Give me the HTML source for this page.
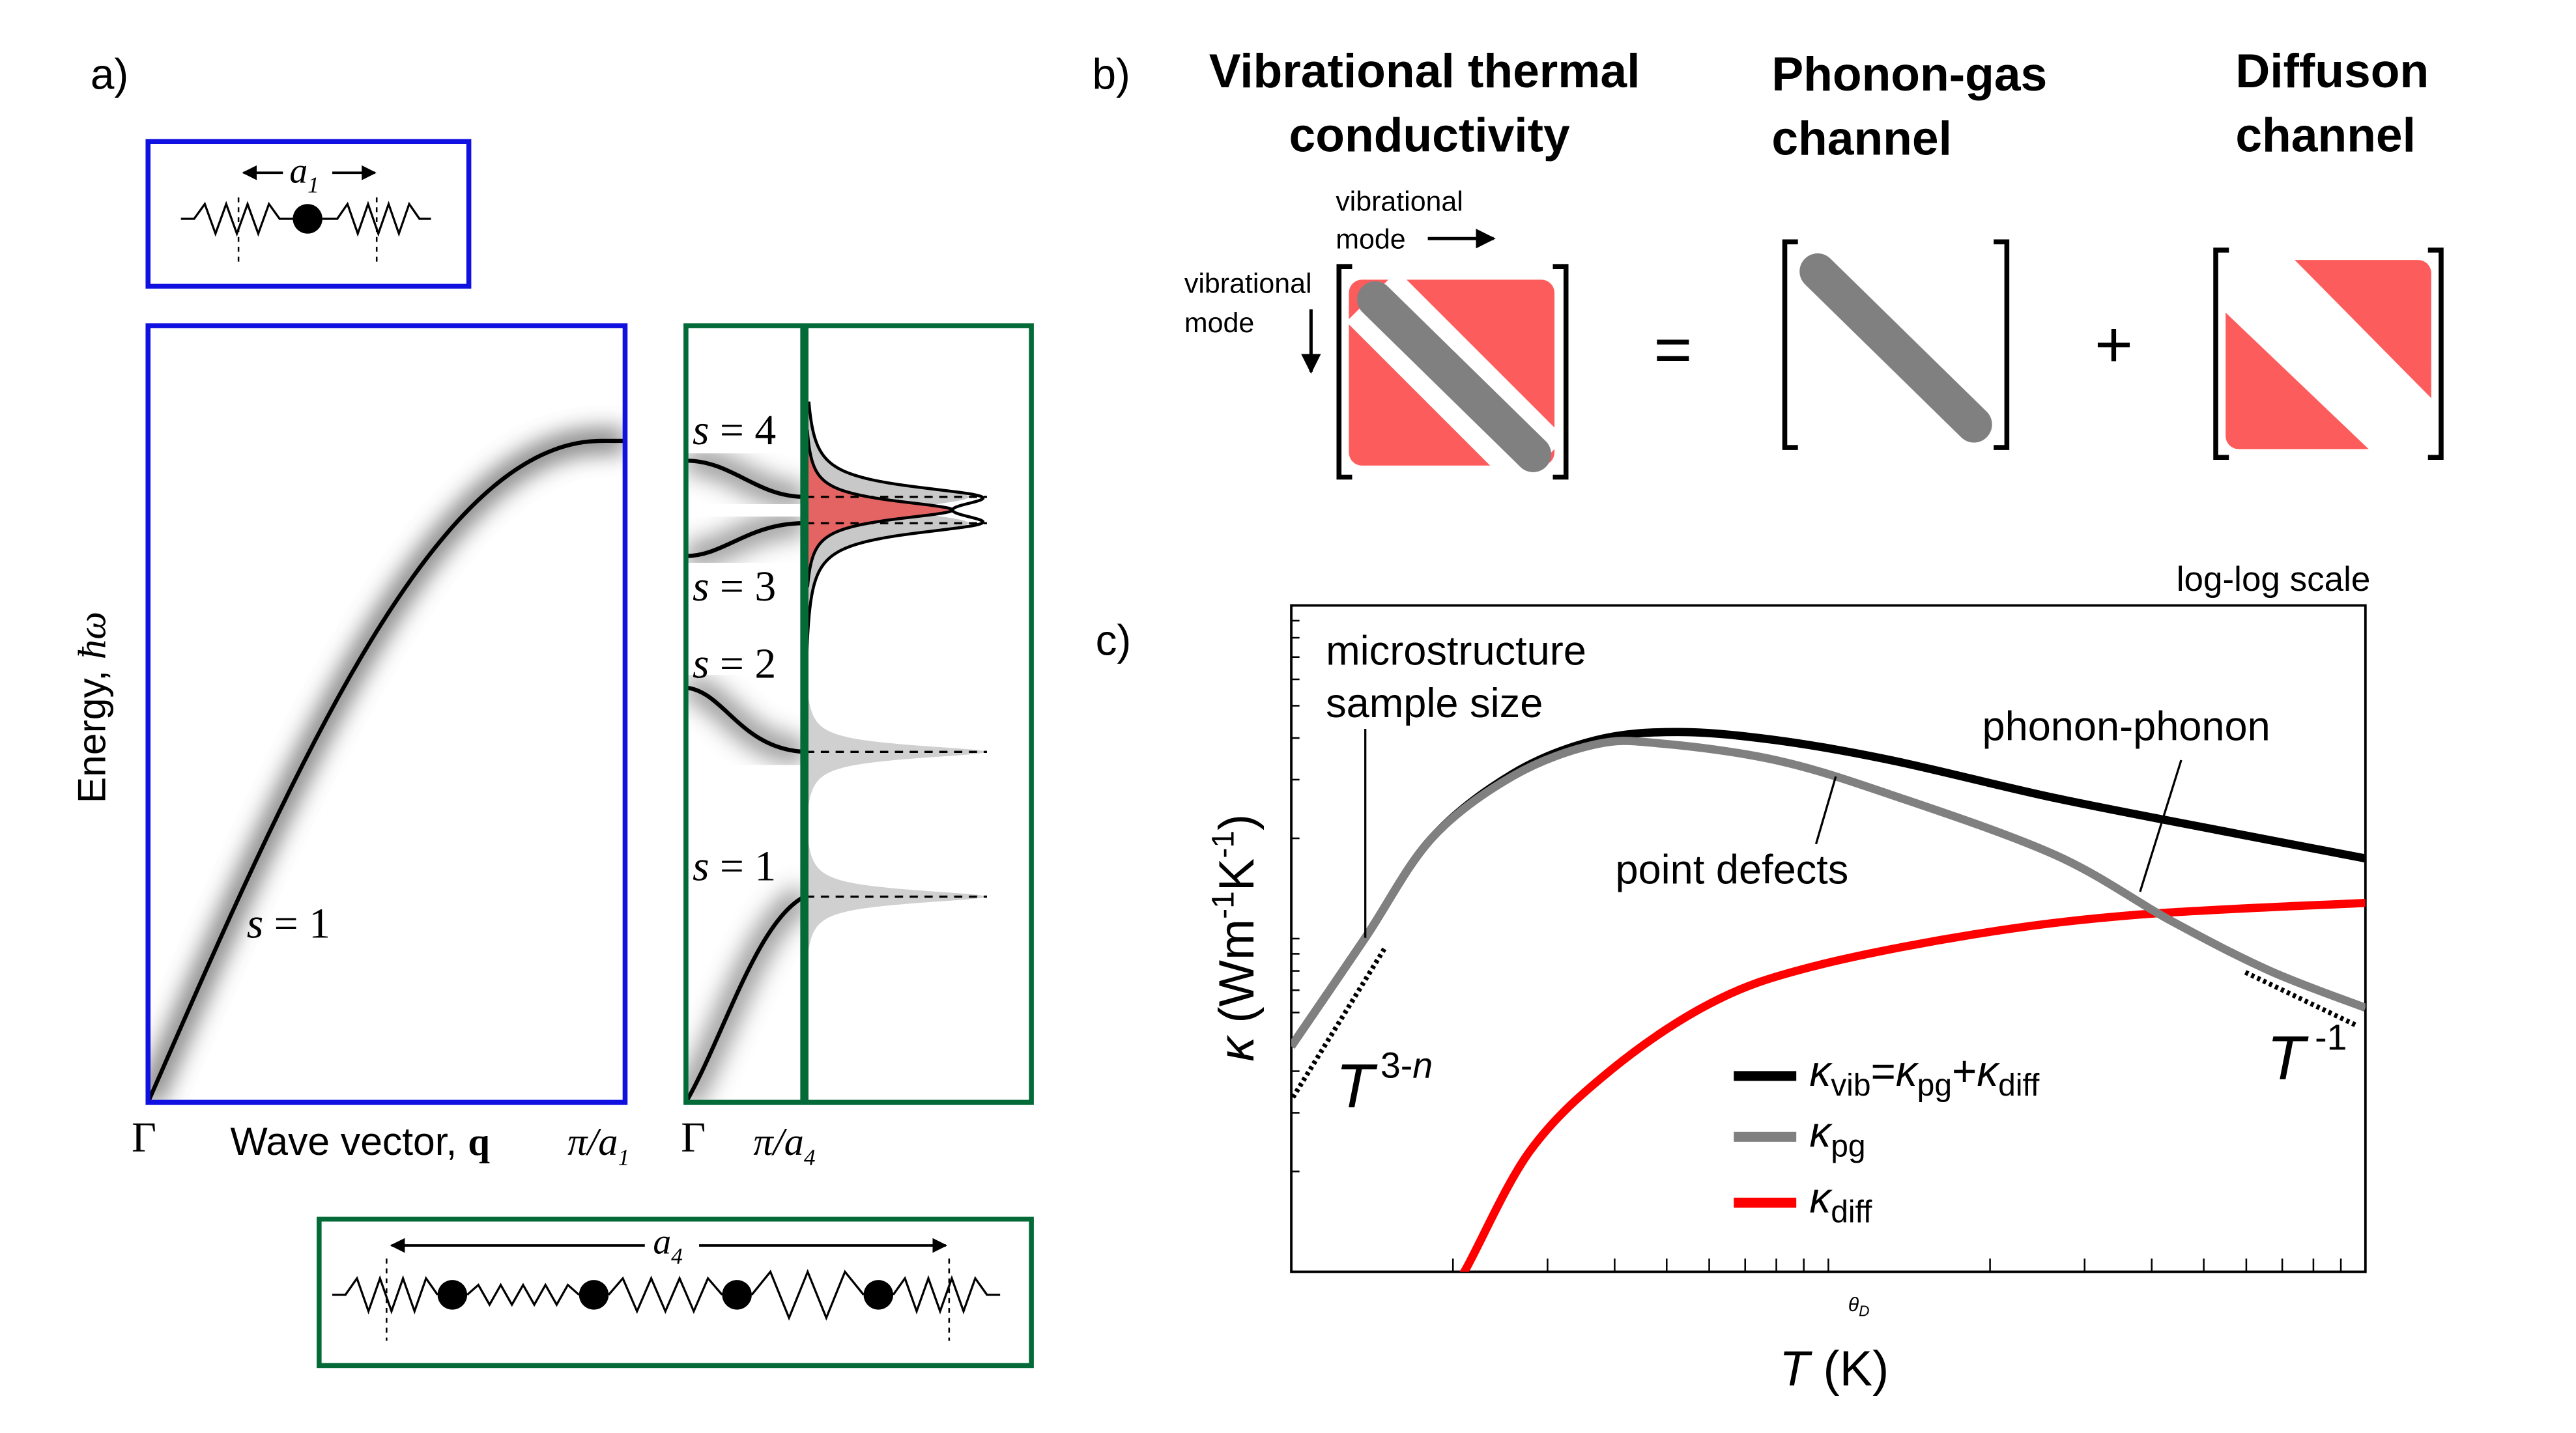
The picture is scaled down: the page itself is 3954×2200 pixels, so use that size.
<!DOCTYPE html>
<html><head><meta charset="utf-8"><style>
html,body{margin:0;padding:0;background:#fff;}
svg{display:block;}
text{font-family:"Liberation Sans",sans-serif;}
.serif{font-family:"Liberation Serif",serif;}
</style></head><body>
<svg id="fig" width="3954" height="2200" viewBox="0 0 1566 871" preserveAspectRatio="none" xmlns="http://www.w3.org/2000/svg">
<defs>
<filter id="blur" x="-20%" y="-20%" width="140%" height="140%"><feGaussianBlur stdDeviation="7"/></filter>
<marker id="arr" viewBox="0 0 10 10" refX="9" refY="5" markerWidth="6" markerHeight="6" orient="auto-start-reverse"><path d="M0,0 L10,5 L0,10 z" fill="#000"/></marker>
<clipPath id="clipA"><rect x="90" y="198" width="290" height="472"/></clipPath>
<clipPath id="clipG"><rect x="417" y="198" width="72" height="472"/></clipPath>
<clipPath id="clipC"><rect x="785" y="368" width="653" height="405"/></clipPath>
</defs>

<!-- PANEL A -->
<text x="55" y="54" font-size="26">a)</text>
<g>
<rect x="90" y="86" width="195" height="88" fill="none" stroke="#1010e0" stroke-width="3"/>
<path id="springA" fill="none" stroke="#000" stroke-width="1.3"/>
<circle cx="187" cy="133" r="9" fill="#000"/>
<line x1="145" y1="120" x2="145" y2="162" stroke="#000" stroke-dasharray="3,3"/>
<line x1="229" y1="120" x2="229" y2="162" stroke="#000" stroke-dasharray="3,3"/>
<line x1="148" y1="105" x2="172" y2="105" stroke="#000" stroke-width="1.5" marker-start="url(#arr)"/>
<line x1="202" y1="105" x2="228" y2="105" stroke="#000" stroke-width="1.5" marker-end="url(#arr)"/>
<text x="176" y="111" font-size="22" font-style="italic" class="serif">a<tspan font-size="14" dy="6">1</tspan></text>
</g>

<g>
<g clip-path="url(#clipA)">
<path id="dispBlur" fill="none" stroke="#555" stroke-width="14" filter="url(#blur)" opacity="0.8"/>
<path id="dispLine" fill="none" stroke="#000" stroke-width="2.5"/>
</g>
<rect x="90" y="198" width="290" height="472" fill="none" stroke="#1010e0" stroke-width="3"/>
<text x="150" y="570" font-size="26" class="serif" font-style="italic">s<tspan font-style="normal"> = 1</tspan></text>
<text transform="translate(64,430) rotate(-90)" text-anchor="middle" font-size="24">Energy, <tspan class="serif" font-style="italic">ħω</tspan></text>
<text x="80" y="700" font-size="26" class="serif">Γ</text>
<text x="140" y="702" font-size="24">Wave vector, <tspan class="serif" font-weight="bold">q</tspan></text>
<text x="345" y="702" font-size="24" class="serif" font-style="italic">π/a<tspan font-size="14" dy="6">1</tspan></text>
</g>

<g>
<g clip-path="url(#clipG)" id="gBranches"></g>
<g id="dos"></g>
<rect x="417" y="198" width="210" height="472" fill="none" stroke="#046a38" stroke-width="3"/>
<line x1="489" y1="198" x2="489" y2="670" stroke="#046a38" stroke-width="5"/>
<text x="421" y="270" font-size="26" class="serif" font-style="italic">s<tspan font-style="normal"> = 4</tspan></text>
<text x="421" y="365" font-size="26" class="serif" font-style="italic">s<tspan font-style="normal"> = 3</tspan></text>
<text x="421" y="412" font-size="26" class="serif" font-style="italic">s<tspan font-style="normal"> = 2</tspan></text>
<text x="421" y="535" font-size="26" class="serif" font-style="italic">s<tspan font-style="normal"> = 1</tspan></text>
<text x="414" y="700" font-size="26" class="serif">Γ</text>
<text x="458" y="702" font-size="24" class="serif" font-style="italic">π/a<tspan font-size="14" dy="6">4</tspan></text>
</g>

<g>
<rect x="194" y="741" width="433" height="89" fill="none" stroke="#046a38" stroke-width="3"/>
<path id="springB" fill="none" stroke="#000" stroke-width="1.3"/>
<circle cx="275" cy="787" r="9" fill="#000"/>
<circle cx="361" cy="787" r="9" fill="#000"/>
<circle cx="448" cy="787" r="9" fill="#000"/>
<circle cx="534" cy="787" r="9" fill="#000"/>
<line x1="235" y1="765" x2="235" y2="815" stroke="#000" stroke-dasharray="3,3"/>
<line x1="577" y1="765" x2="577" y2="815" stroke="#000" stroke-dasharray="3,3"/>
<line x1="238" y1="757" x2="392" y2="757" stroke="#000" stroke-width="1.5" marker-start="url(#arr)"/>
<line x1="425" y1="757" x2="575" y2="757" stroke="#000" stroke-width="1.5" marker-end="url(#arr)"/>
<text x="397" y="762" font-size="22" font-style="italic" class="serif">a<tspan font-size="14" dy="6">4</tspan></text>
</g>

<!-- PANEL B -->
<text x="664" y="54" font-size="26">b)</text>
<text x="866" y="53" font-size="29" font-weight="bold" text-anchor="middle">Vibrational thermal</text>
<text x="869" y="92" font-size="29" font-weight="bold" text-anchor="middle">conductivity</text>
<text x="1077" y="55" font-size="29" font-weight="bold">Phonon-gas</text>
<text x="1077" y="94" font-size="29" font-weight="bold">channel</text>
<text x="1359" y="53" font-size="29" font-weight="bold">Diffuson</text>
<text x="1359" y="92" font-size="29" font-weight="bold">channel</text>
<text x="812" y="128" font-size="17">vibrational</text>
<text x="812" y="151" font-size="17">mode</text>
<line x1="868" y1="145" x2="908" y2="145" stroke="#000" stroke-width="2" marker-end="url(#arr)"/>
<text x="720" y="178" font-size="17">vibrational</text>
<text x="720" y="202" font-size="17">mode</text>
<line x1="797" y1="188" x2="797" y2="226" stroke="#000" stroke-width="2" marker-end="url(#arr)"/>

<g>
<rect x="820" y="170" width="125" height="113" rx="8" fill="#fd5c5c"/>
<line x1="834" y1="180" x2="936" y2="282" stroke="#fff" stroke-width="44"/>
<line x1="836" y1="182" x2="932" y2="276" stroke="#808080" stroke-width="22" stroke-linecap="round"/>
<path d="M822,162 h-8 v128 h8 M944,162 h8 v128 h-8" fill="none" stroke="#000" stroke-width="3"/>
</g>
<text x="1017" y="226" font-size="40" text-anchor="middle">=</text>
<g>
<line x1="1105" y1="165" x2="1200" y2="258" stroke="#808080" stroke-width="22" stroke-linecap="round"/>
<path d="M1093,147 h-8 v125 h8 M1212,147 h8 v125 h-8" fill="none" stroke="#000" stroke-width="3"/>
</g>
<text x="1285" y="223" font-size="40" text-anchor="middle">+</text>
<g>
<path d="M1395,158 H1470 a8,8 0 0 1 8,8 V242 Z" fill="#fd5c5c"/>
<path d="M1353,190 L1440,273 H1361 a8,8 0 0 1 -8,-8 Z" fill="#fd5c5c"/>
<path d="M1355,152 h-8 v126 h8 M1476,152 h8 v126 h-8" fill="none" stroke="#000" stroke-width="3"/>
</g>

<!-- PANEL C -->
<text x="666" y="398" font-size="26">c)</text>
<text x="1441" y="359" font-size="21" text-anchor="end">log-log scale</text>
<g id="chart">
<rect x="785" y="368" width="653" height="405" fill="none" stroke="#000" stroke-width="1.5"/>
<g id="ticks"></g>
<g id="curves" clip-path="url(#clipC)"></g>
<text x="1130" y="797" font-size="12" font-style="italic" text-anchor="middle">θ<tspan font-size="9" dy="3">D</tspan></text>
<text x="1115" y="842" font-size="30" text-anchor="middle"><tspan font-style="italic">T</tspan> (K)</text>
<text transform="translate(762,570) rotate(-90)" font-size="30" text-anchor="middle"><tspan font-style="italic">κ</tspan> (Wm<tspan font-size="19" dy="-12">-1</tspan><tspan dy="12">K</tspan><tspan font-size="19" dy="-12">-1</tspan><tspan dy="12">)</tspan></text>
<text x="806" y="404" font-size="25">microstructure</text>
<text x="806" y="436" font-size="25">sample size</text>
<line x1="830" y1="443" x2="830" y2="570" stroke="#000" stroke-width="1.3"/>
<text x="982" y="537" font-size="25">point defects</text>
<line x1="1116" y1="472" x2="1104" y2="513" stroke="#000" stroke-width="1.3"/>
<text x="1205" y="450" font-size="25">phonon-phonon</text>
<line x1="1326" y1="462" x2="1301" y2="542" stroke="#000" stroke-width="1.3"/>
<line x1="786" y1="667" x2="842" y2="576" stroke="#000" stroke-width="3" stroke-dasharray="2,2"/>
<line x1="1365" y1="591" x2="1432" y2="623" stroke="#000" stroke-width="3" stroke-dasharray="2,2"/>
<text x="812" y="673" font-size="38" font-style="italic">T<tspan font-style="normal" font-size="22" dy="-18" dx="4">3-</tspan><tspan font-size="22">n</tspan></text>
<text x="1378" y="656" font-size="38" font-style="italic">T<tspan font-style="normal" font-size="22" dy="-18" dx="6">-1</tspan></text>
<g>
<line x1="1054" y1="654" x2="1092" y2="654" stroke="#000" stroke-width="6"/>
<text x="1100" y="660" font-size="26"><tspan font-style="italic">κ</tspan><tspan font-size="19" dy="6">vib</tspan><tspan dy="-6">=</tspan><tspan font-style="italic">κ</tspan><tspan font-size="19" dy="6">pg</tspan><tspan dy="-6">+</tspan><tspan font-style="italic">κ</tspan><tspan font-size="19" dy="6">diff</tspan></text>
<line x1="1054" y1="691" x2="1092" y2="691" stroke="#808080" stroke-width="6"/>
<text x="1100" y="697" font-size="26"><tspan font-style="italic">κ</tspan><tspan font-size="19" dy="6">pg</tspan></text>
<line x1="1054" y1="731" x2="1092" y2="731" stroke="#ff0000" stroke-width="6"/>
<text x="1100" y="737" font-size="26"><tspan font-style="italic">κ</tspan><tspan font-size="19" dy="6">diff</tspan></text>
</g>
</g>
</svg>
<script>
// ---- chart data (panel c) ----
const tVib = [10, 13.7, 18.2, 25.9, 36.9, 52.5, 80, 131, 265, 537, 1000];
const kVib = [4.75, 10, 19.9, 31.3, 39.4, 41.7, 39.4, 34.3, 26.4, 21.1, 17.4];
const tPg = [10, 13.7, 18.2, 25.9, 36.9, 48.9, 80, 131, 265, 435, 664, 1000];
const kPg = [4.75, 10, 19.9, 30.8, 38.3, 38.5, 34.3, 27, 17.8, 11.3, 8.0, 6.2];
const tDiff = [19, 21, 27.8, 39.5, 60.4, 92.3, 187, 378, 1000];
const kDiff = [0.8, 1, 2.3, 4.05, 6.4, 8.2, 10.3, 11.8, 12.8];
const xDomain = [1, 3];   // log10 T
const yDomain = [0, 2];   // log10 kappa
const NS = 'http://www.w3.org/2000/svg';
const X0 = 785, X1 = 1438, Y0 = 773, Y1 = 368;
function xScale(t){ return X0 + (Math.log10(t) - xDomain[0]) / (xDomain[1] - xDomain[0]) * (X1 - X0); }
function yScale(k){ return Y0 - (Math.log10(k) - yDomain[0]) / (yDomain[1] - yDomain[0]) * (Y0 - Y1); }
function smooth(pts){
  let d = 'M' + pts[0][0] + ',' + pts[0][1];
  for (let i = 0; i < pts.length - 1; i++){
    const p0 = pts[Math.max(0, i - 1)], p1 = pts[i], p2 = pts[i + 1], p3 = pts[Math.min(pts.length - 1, i + 2)];
    const c1x = p1[0] + (p2[0] - p0[0]) / 6, c1y = p1[1] + (p2[1] - p0[1]) / 6;
    const c2x = p2[0] - (p3[0] - p1[0]) / 6, c2y = p2[1] - (p3[1] - p1[1]) / 6;
    d += ' C' + c1x + ',' + c1y + ' ' + c2x + ',' + c2y + ' ' + p2[0] + ',' + p2[1];
  }
  return d;
}
function curve(ts, ks, color, name){
  const p = document.createElementNS(NS, 'path');
  p.setAttribute('d', smooth(ts.map((t, i) => [xScale(t), yScale(ks[i])])));
  p.setAttribute('fill', 'none');
  p.setAttribute('stroke', color);
  p.setAttribute('stroke-width', '5');
  
  
  document.getElementById('curves').appendChild(p);
}
curve(tDiff, kDiff, '#ff0000', 'kappa-diff-curve');
curve(tVib, kVib, '#000000', 'kappa-vib-curve');
curve(tPg, kPg, '#808080', 'kappa-pg-curve');
// ticks
const tickG = document.getElementById('ticks');
for (let dec = 10; dec <= 100; dec *= 10){
  for (let m = 1; m <= 9; m++){
    const v = dec * m;
    if (v > 10 && v < 1000){
      const x = xScale(v);
      const l = document.createElementNS(NS, 'line');
      l.setAttribute('x1', x); l.setAttribute('x2', x);
      l.setAttribute('y1', Y0); l.setAttribute('y2', Y0 - 8);
      l.setAttribute('stroke', '#000'); l.setAttribute('stroke-width', '1');
      
      
      tickG.appendChild(l);
    }
  }
}
for (let dec = 1; dec <= 10; dec *= 10){
  for (let m = 1; m <= 9; m++){
    const v = dec * m;
    if (v > 1 && v < 100){
      const y = yScale(v);
      const l = document.createElementNS(NS, 'line');
      l.setAttribute('x1', X0); l.setAttribute('x2', X0 + 5);
      l.setAttribute('y1', y); l.setAttribute('y2', y);
      l.setAttribute('stroke', '#000'); l.setAttribute('stroke-width', '1');
      
      
      tickG.appendChild(l);
    }
  }
}

// ---- panel a: dispersion ----
function dispPts(){ const pts=[]; for(let i=0;i<=40;i++){const q=i/40; pts.push([90+q*290, 670-402*Math.sin(Math.min(q/0.95,1)*Math.PI/2)]);} return pts; }
const dp = smooth(dispPts());
document.getElementById('dispLine').setAttribute('d', dp);
document.getElementById('dispBlur').setAttribute('d', dp);
function zig(x0,x1,y,n,amp){ let d=''; const w=(x1-x0)/n; for(let i=0;i<=n;i++){ d+=' L'+(x0+i*w)+','+(y+(i%2?-amp:amp)*(i===0||i===n?0:1)); } return d; }
document.getElementById('springA').setAttribute('d','M110,133 L118,133'+zig(118,170,133,8,9)+' L178,133 M196,133 L205,133'+zig(205,255,133,8,9)+' L262,133');
let sb='M202,787 L210,787'+zig(210,266,787,8,10);
sb+=' M284,787'+zig(284,352,787,10,6);
sb+=' M370,787'+zig(370,439,787,8,10);
sb+=' M457,787'+zig(457,525,787,6,14);
sb+=' M543,787'+zig(543,600,787,8,10)+' L608,787';
document.getElementById('springB').setAttribute('d',sb);

const gB = document.getElementById('gBranches');
const branchD = [
  'M417,670 C440,630 460,560 489,545',
  'M417,418 C440,420 450,455 489,457',
  'M417,338 C440,338 455,318 489,318',
  'M417,280 C445,280 460,302 489,302'
];
branchD.forEach((d,i)=>{
  const b=document.createElementNS(NS,'path'); b.setAttribute('d',d); b.setAttribute('fill','none'); b.setAttribute('stroke','#555'); b.setAttribute('stroke-width','16'); b.setAttribute('opacity','0.6'); b.setAttribute('filter','url(#blur)');
  
  
  gB.appendChild(b);
});
branchD.forEach((d,i)=>{
  const b=document.createElementNS(NS,'path'); b.setAttribute('d',d); b.setAttribute('fill','none'); b.setAttribute('stroke','#000'); b.setAttribute('stroke-width','2.5');
  
  
  gB.appendChild(b);
});
const dos = document.getElementById('dos');
function lor(y0s, A, w, ya, yb, cap){ let d='M489,'+ya; for(let y=ya;y<=yb;y+=0.5){ let s=0; y0s.forEach(y0=>{s+=A/(1+((y-y0)/w)**2);}); d+=' L'+(489+Math.min(s,cap))+','+y; } return d+' L489,'+yb+' Z'; }
function addPath(d, fill, stroke, name){ const p=document.createElementNS(NS,'path'); p.setAttribute('d',d); p.setAttribute('fill',fill); p.setAttribute('stroke',stroke); p.setAttribute('stroke-width','1.8');
  
  
  dos.appendChild(p); }
addPath(lor([545],110,5,490,600,110),'#d0d0d0','none','dos-peak-s1');
addPath(lor([457],110,5,410,505,110),'#d0d0d0','none','dos-peak-s2');
addPath(lor([302],100,9,245,318,112)+' '+lor([318],100,9,302,402,112),'#c8c8c8','none','dos-peaks-s3-s4-fill');
addPath(lor([302,318],90,8,245,402,112),'none','#000','dos-peaks-s3-s4');
addPath(lor([310],90,7,262,356,100),'#e46464','#000','dos-peaks-diffuson');
[302,318,457,545].forEach(y=>{ const l=document.createElementNS(NS,'line'); l.setAttribute('x1',490); l.setAttribute('x2',600); l.setAttribute('y1',y); l.setAttribute('y2',y); l.setAttribute('stroke','#000'); l.setAttribute('stroke-width','1.3'); l.setAttribute('stroke-dasharray','5,4');
  
  
  dos.appendChild(l); });
</script>
</body></html>
